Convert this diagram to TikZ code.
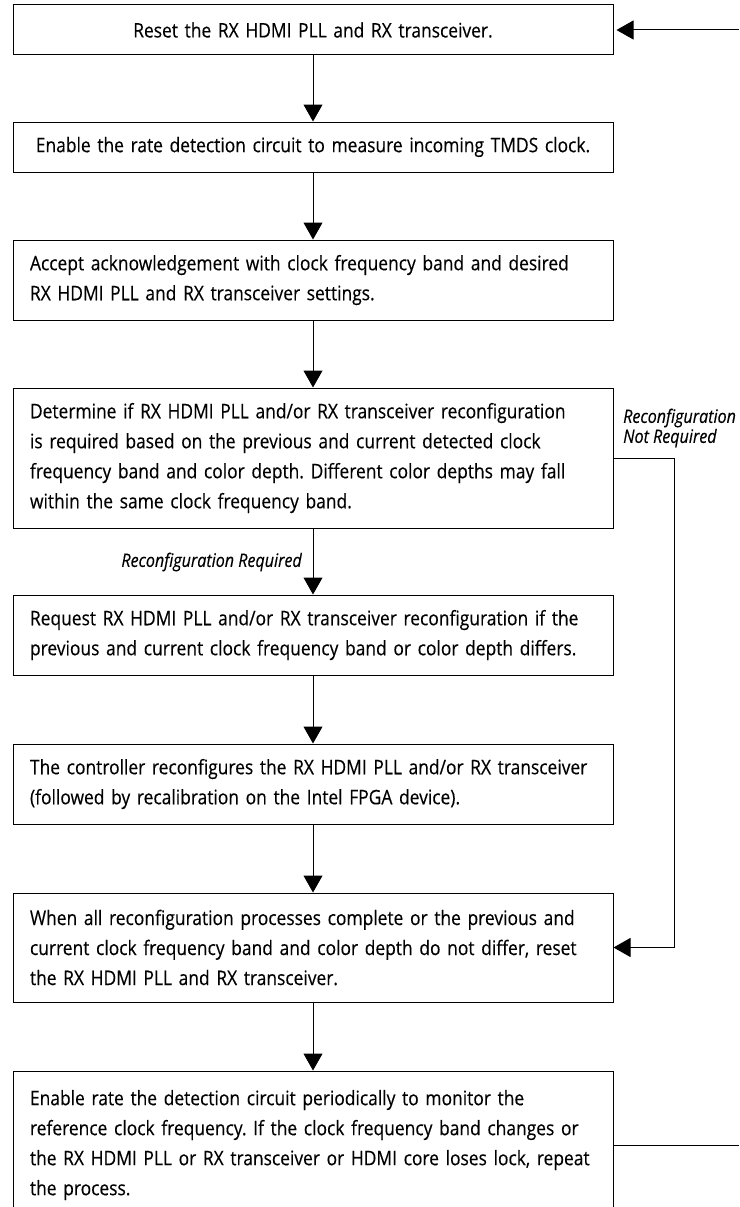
\documentclass[tikz,border=0pt]{standalone}
\usepackage{fontspec}
\setmainfont{Open Sans}[FakeStretch=0.87,FakeBold=0.3]
\usetikzlibrary{arrows.meta}
\frenchspacing

\begin{document}
\begin{tikzpicture}
        [x=1pt,y=-1pt,
        stepdecorate/.style={shape=rectangle,draw,line width=1pt,minimum width=600pt,inner xsep=17pt,inner ysep=0pt,%
          text width=566pt,align=left,font=\fontsize{20}{30}\selectfont},%
        arrowdecorate/.style={-{Triangle[length=17pt,width=19pt]},line width=1pt},%
        notedecorate/.style={font=\fontsize{18.5}{20}\selectfont\itshape,inner sep=0pt}]
        \useasboundingbox (0,0) rectangle (739,1207);
        %% steps of the flow
        \node (b1) at (313,30) [stepdecorate,align=center,minimum height=50pt] {Reset the RX HDMI PLL and RX transceiver.};
        \node (b2) at (313,147) [stepdecorate,align=center,minimum height=50pt] {Enable the rate detection circuit to measure incoming TMDS clock.};
        \node (b3) at (313,280) [stepdecorate,minimum height=80pt] {Accept acknowledgement with clock frequency band and desired\\
          RX HDMI PLL and RX transceiver settings.};
        \node (b4) at (313,458) [stepdecorate,minimum height=140pt] {Determine if RX HDMI PLL and/or RX transceiver reconfiguration\\
          is required based on the previous and current detected clock\\
          frequency band and color depth. Different color depths may fall\\
          within the same clock frequency band.};
        \node (b5) at (313,635) [stepdecorate,minimum height=80pt] {Request RX HDMI PLL and/or RX transceiver reconfiguration if the\\
          previous and current clock frequency band or color depth differs.};
        \node (b6) at (313,784) [stepdecorate,minimum height=80pt] {The controller reconfigures the RX HDMI PLL and/or RX transceiver\\
          (followed by recalibration on the Intel FPGA device).};
        \node (b7) at (313,947.5) [stepdecorate,minimum height=109pt] {When all reconfiguration processes complete or the previous and\\
          current clock frequency band and color depth do not differ, reset\\
          the RX HDMI PLL and RX transceiver.};
        \node (b8) at (313,1145) [stepdecorate,minimum height=148pt] {Enable rate the detection circuit periodically to monitor the\\
          reference clock frequency. If the clock frequency band changes or\\
          the RX HDMI PLL or RX transceiver or HDMI core loses lock, repeat\\
          the process.};
        %% arrows down the flow
        \path
        \foreach \startnode/\endnode in {b1/b2, b2/b3, b3/b4, b4/b5, b5/b6, b6/b7, b7/b8}
        {
          (\startnode) edge[arrowdecorate] (\endnode)
        };
        %% branch labels
        \node (req) at (302,562) [notedecorate,anchor=east] {Reconfiguration Required};
        \node (notreq) at (623,428) [notedecorate,anchor=west,align=left] {Reconfiguration\\Not Required};
        %% return paths
        \coordinate (skip) at (674,458);
        \draw[arrowdecorate] (b4.east) -- (skip) |- (b7.east);
        \coordinate (loopout) at (739,1145);
        \coordinate (loopin) at (739,30);
        \draw[line width=1pt] (b8.east) -- (loopout);
        \draw[arrowdecorate,shorten >=3pt] (loopin) -- (b1.east);
      \end{tikzpicture}
\end{document}
